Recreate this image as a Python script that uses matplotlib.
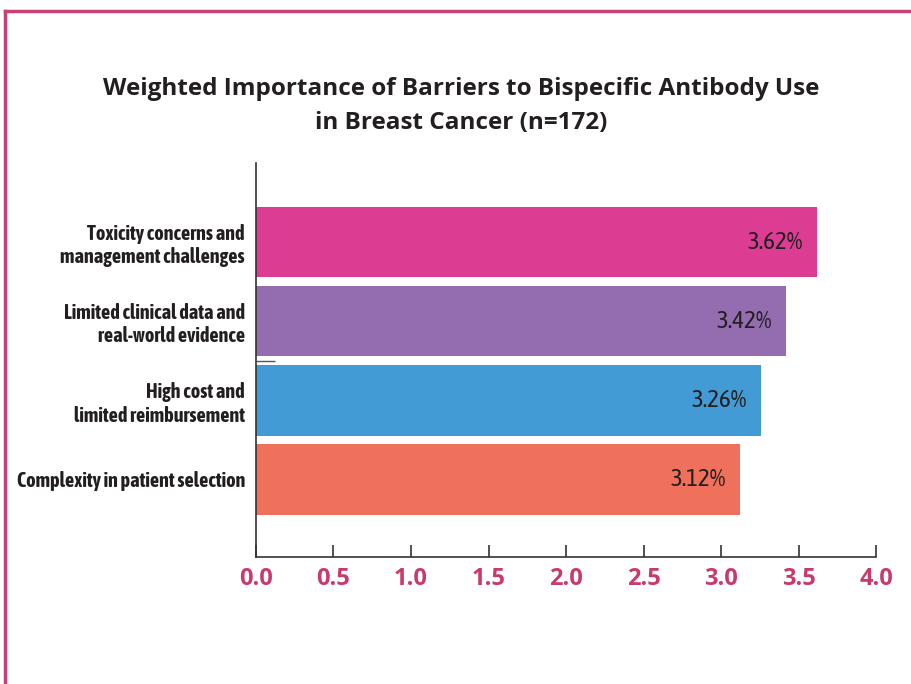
import matplotlib.pyplot as plt
from matplotlib import font_manager
from matplotlib.lines import Line2D

categories = [
    "Toxicity concerns and\nmanagement challenges",
    "Limited clinical data and\nreal-world evidence",
    "High cost and\nlimited reimbursement",
    "Complexity in patient selection",
]
values = [3.62, 3.42, 3.26, 3.12]
bar_colors = ["#DC3D93", "#946DB0", "#429BD4", "#EF705B"]
x_ticks = [0.0, 0.5, 1.0, 1.5, 2.0, 2.5, 3.0, 3.5, 4.0]

PINK = "#C9396F"
DARK = "#231F20"

fonts = font_manager.fontManager.ttflist
narrow_bold = sorted({f.name for f in fonts
                      if ("Narrow" in f.name or "Condensed" in f.name)
                      and f.weight in ("bold", 700, 600, "semibold", "demibold")})
narrow_any = sorted({f.name for f in fonts if "Narrow" in f.name or "Condensed" in f.name})
NARROW = (narrow_bold or narrow_any or ["Open Sans"])[0]
LABEL_SIZE = 14.5 if narrow_any else 11.5

fig = plt.figure(figsize=(9.11, 6.84), dpi=100)
ax = fig.add_axes([0.281, 0.1857, 0.6806, 0.576])

ypos = list(range(len(categories)))[::-1]
ax.barh(ypos, values, height=0.89, color=bar_colors)

for y, v in zip(ypos, values):
    ax.text(v - 0.09, y, f"{v:.2f}%", ha="right", va="center",
            fontsize=18, family=NARROW, color=DARK)

ax.set_xlim(0, 4.0)
ax.set_ylim(-0.98, 4.0)
ax.set_xticks(x_ticks)
ax.set_xticklabels([f"{t:.1f}" for t in x_ticks], fontsize=17,
                   fontweight="bold", color=PINK, family="Open Sans")
ax.tick_params(axis="x", direction="in", length=9, width=1.2,
               color="#333333", pad=7)
ax.set_yticks(ypos)
ax.set_yticklabels(categories, fontsize=LABEL_SIZE, fontweight="bold",
                   family=NARROW, color=DARK, linespacing=1.2)
ax.tick_params(axis="y", length=0, pad=8)
# stray small mark on the y axis between the 2nd and 3rd bar
ax.set_yticks([1.5], minor=True)
ax.tick_params(axis="y", which="minor", direction="in", length=14,
               width=1.0, color="#555555")

for side in ["top", "right"]:
    ax.spines[side].set_visible(False)
for side in ["left", "bottom"]:
    ax.spines[side].set_color("#333333")
    ax.spines[side].set_linewidth(1.2)

fig.text(0.506, 0.845, "Weighted Importance of Barriers to Bispecific Antibody Use\nin Breast Cancer (n=172)",
         ha="center", va="center", fontsize=17.5, fontweight="bold",
         family="Open Sans", color=DARK, linespacing=1.6)

# pink frame along top and left edge
fig.add_artist(Line2D([5 / 911, 1], [1 - 11 / 684, 1 - 11 / 684],
                      transform=fig.transFigure, color="#C8407A", lw=2.5))
fig.add_artist(Line2D([5 / 911, 5 / 911], [0, 1 - 11 / 684],
                      transform=fig.transFigure, color="#C8407A", lw=2.5))

fig.savefig("out.png", dpi=100)
